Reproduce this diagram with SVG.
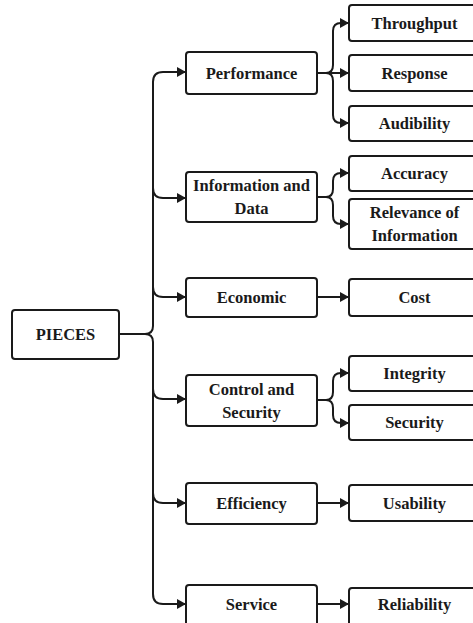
<svg xmlns="http://www.w3.org/2000/svg" width="473" height="623" viewBox="0 0 473 623">
<style>
.box{fill:#fff;stroke:#1a1a1a;stroke-width:2}
.lbl{font-family:"Liberation Serif","Times New Roman",serif;font-weight:bold;font-size:16.5px;fill:#1a1a1a;text-anchor:middle}
.con{fill:none;stroke:#1a1a1a;stroke-width:2}
.arr{marker-end:url(#ah)}
</style>
<defs>
<marker id="ah" markerUnits="userSpaceOnUse" markerWidth="9" markerHeight="10" refX="9" refY="5" orient="auto">
<path d="M0,0 L9,5 L0,10 z" fill="#1a1a1a"/>
</marker>
</defs>
<rect width="473" height="623" fill="#fff"/>
<g id="connectors">
<path class="con" d="M163,72 Q153,72 153,82 V326 Q153,334 145,334 H119"/>
<path class="con" d="M145,334 Q153,334 153,342 V594 Q153,604 163,604 H177"/>
<path class="con arr" d="M163,72 H186"/>
<path class="con arr" d="M153,188 Q153,198 163,198 H186"/>
<path class="con arr" d="M153,287 Q153,297 163,297 H186"/>
<path class="con arr" d="M153,389 Q153,399 163,399 H186"/>
<path class="con arr" d="M153,493 Q153,503 163,503 H186"/>
<path class="con arr" d="M163,604 H186"/>
<path class="con arr" d="M317,73 H349"/>
<path class="con arr" d="M326,73 Q333,73 333,65 V31 Q333,23 341,23 H349"/>
<path class="con arr" d="M326,73 Q333,73 333,81 V115 Q333,123 341,123 H349"/>
<path class="con" d="M317,197 H326"/>
<path class="con arr" d="M326,197 Q333,197 333,189 V181 Q333,173 341,173 H349"/>
<path class="con arr" d="M326,197 Q333,197 333,205 V216 Q333,224 341,224 H349"/>
<path class="con arr" d="M317,297 H349"/>
<path class="con" d="M317,400 H326"/>
<path class="con arr" d="M326,400 Q333,400 333,392 V381 Q333,373 341,373 H349"/>
<path class="con arr" d="M326,400 Q333,400 333,408 V415 Q333,423 341,423 H349"/>
<path class="con arr" d="M317,503 H349"/>
<path class="con arr" d="M317,604 H349"/>
</g>
<g id="pieces"><rect class="box" x="12" y="310" width="107" height="49" rx="3"/><text class="lbl" x="65.5" y="340">PIECES</text></g>
<g id="performance"><rect class="box" x="186" y="52" width="131" height="42" rx="3"/><text class="lbl" x="251.5" y="78.5">Performance</text></g>
<g id="information"><rect class="box" x="186" y="172" width="131" height="50" rx="3"/><text class="lbl" x="251.5" y="191">Information and</text><text class="lbl" x="251.5" y="214">Data</text></g>
<g id="economic"><rect class="box" x="186" y="278" width="131" height="39" rx="3"/><text class="lbl" x="251.5" y="302.5">Economic</text></g>
<g id="control"><rect class="box" x="186" y="375" width="131" height="51" rx="3"/><text class="lbl" x="251.5" y="394.5">Control and</text><text class="lbl" x="251.5" y="417.5">Security</text></g>
<g id="efficiency"><rect class="box" x="186" y="483" width="131" height="41" rx="3"/><text class="lbl" x="251.5" y="508.5">Efficiency</text></g>
<g id="service"><rect class="box" x="186" y="585" width="131" height="45" rx="3"/><text class="lbl" x="251.5" y="609.5">Service</text></g>
<g id="throughput"><rect class="box" x="349" y="5" width="131" height="36" rx="3"/><text class="lbl" x="414.5" y="28.5">Throughput</text></g>
<g id="response"><rect class="box" x="349" y="55" width="131" height="36" rx="3"/><text class="lbl" x="414.5" y="78.5">Response</text></g>
<g id="audibility"><rect class="box" x="349" y="106" width="131" height="35" rx="3"/><text class="lbl" x="414.5" y="129">Audibility</text></g>
<g id="accuracy"><rect class="box" x="349" y="156" width="131" height="35" rx="3"/><text class="lbl" x="414.5" y="178.5">Accuracy</text></g>
<g id="relevance"><rect class="box" x="349" y="199" width="131" height="50" rx="3"/><text class="lbl" x="414.5" y="218">Relevance of</text><text class="lbl" x="414.5" y="241">Information</text></g>
<g id="cost"><rect class="box" x="349" y="279" width="131" height="37" rx="3"/><text class="lbl" x="414.5" y="303">Cost</text></g>
<g id="integrity"><rect class="box" x="349" y="356" width="131" height="35" rx="3"/><text class="lbl" x="414.5" y="378.5">Integrity</text></g>
<g id="security"><rect class="box" x="349" y="405" width="131" height="35" rx="3"/><text class="lbl" x="414.5" y="428">Security</text></g>
<g id="usability"><rect class="box" x="349" y="485" width="131" height="36" rx="3"/><text class="lbl" x="414.5" y="508.5">Usability</text></g>
<g id="reliability"><rect class="box" x="349" y="588" width="131" height="40" rx="3"/><text class="lbl" x="414.5" y="609.5">Reliability</text></g>
</svg>
